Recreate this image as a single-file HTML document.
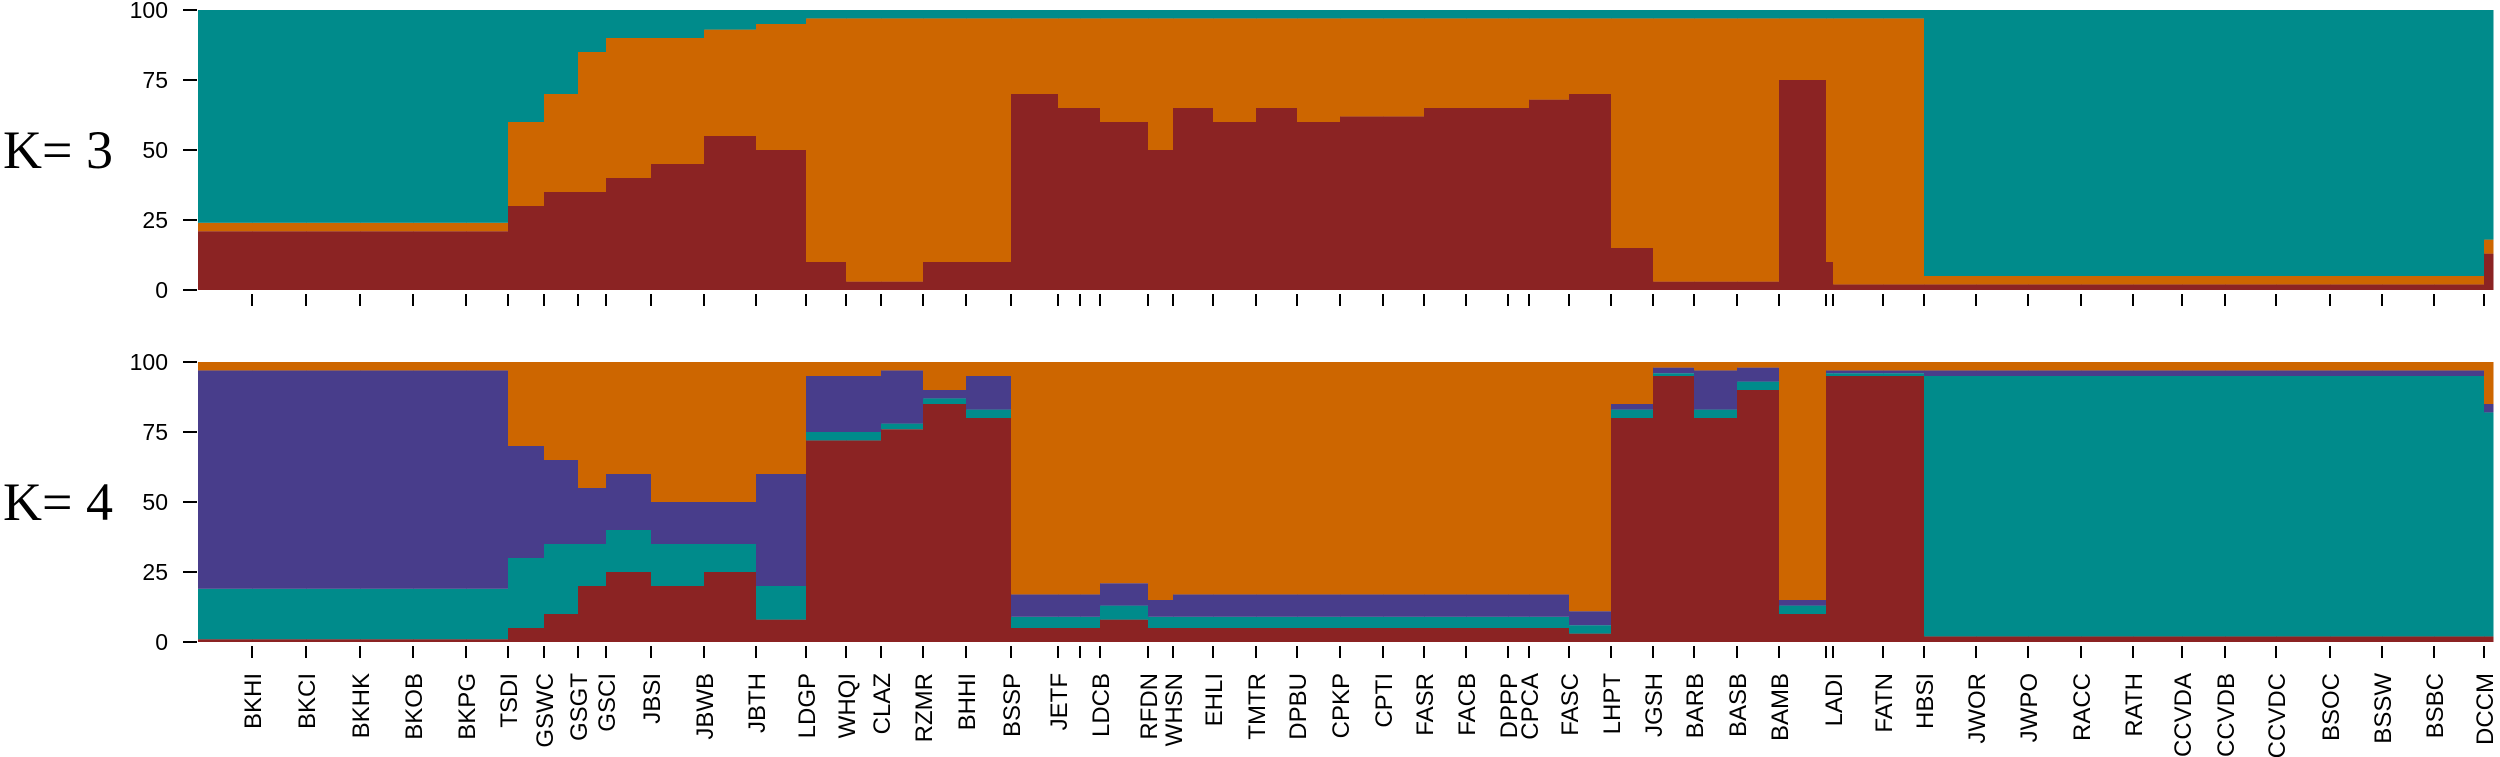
<!DOCTYPE html>
<html><head><meta charset="utf-8"><style>
html,body{margin:0;padding:0;background:#fff;}
svg{display:block;}
</style></head><body>
<svg id="chart" width="2500" height="757" viewBox="0 0 2500 757" xmlns="http://www.w3.org/2000/svg">
<text x="3" y="168" font-family="Liberation Serif, serif" font-size="54">K= 3</text>
<text x="3" y="520" font-family="Liberation Serif, serif" font-size="54">K= 4</text>
<g id="k3"></g>
<g id="k4"></g>
<g id="xlabels"></g>
</svg>
<script>
const populations = ["BKHI","BKCI","BKHK","BKOB","BKPG","TSDI","GSWC","GSGT","GSCI","JBSI","JBWB","JBTH","LDGP","WHQI","CLAZ","RZMR","BHHI","BSSP","JETF","","LDCB","RFDN","WHSN","EHLI","TMTR","DPBU","CPKP","CPTI","FASR","FACB","DPPP","CPCA","FASC","LHPT","JGSH","BARB","BASB","BAMB","","LADI","FATN","HBSI","JWOR","JWPO","RACC","RATH","CCVDA","CCVDB","CCVDC","BSOC","BSSW","BSBC","DCCM",""];
const sampleCounts = [54,54,54,53,53,42,36,34,28,45,53,52,50,40,35,42,43,45,47,22,20,48,25,40,43,41,43,43,41,42,42,21,40,42,42,41,43,42,47,7,50,41,52,52,53,52,49,43,51,54,52,52,50,9];
// K=3 : red, orange (teal = remainder)
const k3Red =    [21,21,21,21,21,21,30,35,35,40,45,55,50,10,3,3,10,10,70,65,65,60,50,65,60,65,60,62,62,65,65,65,68,70,15,3,3,3,75,10,2,2,2,2,2,2,2,2,2,2,2,2,2,13];
const k3Orange = [3,3,3,3,3,3,30,35,50,50,45,38,45,87,94,94,87,87,27,32,32,37,47,32,37,32,37,35,35,32,32,32,29,27,82,94,94,94,22,87,95,95,3,3,3,3,3,3,3,3,3,3,3,5];
// K=4 : red, teal, purple (orange = remainder)
const k4Red =    [1,1,1,1,1,1,5,10,20,25,20,25,8,72,72,76,85,80,5,5,5,8,5,5,5,5,5,5,5,5,5,5,5,3,80,95,80,90,10,95,95,95,2,2,2,2,2,2,2,2,2,2,2,2];
const k4Teal =   [18,18,18,18,18,18,25,25,15,15,15,10,12,3,3,2,2,3,4,4,4,5,4,4,4,4,4,4,4,4,4,4,4,3,3,1,3,3,3,1,1,1,93,93,93,93,93,93,93,93,93,93,93,80];
const k4Purple = [78,78,78,78,78,78,40,30,20,20,15,15,40,20,20,19,3,12,8,8,8,8,6,8,8,8,8,8,8,8,8,8,8,5,2,2,14,5,2,1,1,1,2,2,2,2,2,2,2,2,2,2,2,3];
const yTicks = [0,25,50,75,100];

const NS="http://www.w3.org/2000/svg";
const C={red:"#8B2323",orange:"#CD6600",teal:"#008B8B",purple:"#483D8B"};
const X0=198,X1=2493;
const total=sampleCounts.reduce((a,b)=>a+b,0);
function xScale(c){return X0+(X1-X0)*c/total;}
function yScale(v,top){return top+280-280*v/100;}
function mk(tag,attrs,parent){const e=document.createElementNS(NS,tag);for(const k in attrs)e.setAttribute(k,attrs[k]);parent.appendChild(e);return e;}

function drawPanel(g,top,layers){
  let cum=0;
  sampleCounts.forEach((n,i)=>{
    const xa=xScale(cum),xb=xScale(cum+n);cum+=n;
    let base=0;
    layers.forEach(L=>{
      const v=L.vals?L.vals[i]:100-base;
      const r=mk("rect",{x:xa,y:yScale(base+v,top),width:xb-xa+0.5,height:yScale(base,top)-yScale(base+v,top),fill:L.color},g);
      
      
      base+=v;
    });
  });
  yTicks.forEach(t=>{
    const y=yScale(t,top);
    const l=mk("line",{x1:183,x2:197,y1:y,y2:y,stroke:"#000","stroke-width":2},g);
    
    
    const tx=mk("text",{x:168,y:y+8,"text-anchor":"end","font-family":"Liberation Sans, sans-serif","font-size":23},g);
    
    
    tx.textContent=t;
  });
  cum=0;
  sampleCounts.slice(0,-1).forEach(n=>{
    cum+=n;const x=xScale(cum);
    const l=mk("line",{x1:x,x2:x,y1:top+284,y2:top+296,stroke:"#000","stroke-width":2},g);
    
    
  });
}
const redLayerK3={name:"red",color:C.red,vals:k3Red};
drawPanel(document.getElementById("k3"),10,[redLayerK3,{name:"orange",color:C.orange,vals:k3Orange},{name:"teal",color:C.teal}]);
drawPanel(document.getElementById("k4"),362,[{name:"red",color:C.red,vals:k4Red},{name:"teal",color:C.teal,vals:k4Teal},{name:"purple",color:C.purple,vals:k4Purple},{name:"orange",color:C.orange}]);

const lg=document.getElementById("xlabels");
let cum=0;
sampleCounts.slice(0,-1).forEach((n,i)=>{
  cum+=n;const x=xScale(cum)+9;
  if(!populations[i])return;
  const t=mk("text",{x:x,y:673,"text-anchor":"end","font-family":"Liberation Sans, sans-serif","font-size":24,transform:`rotate(-90 ${x} 673)`},lg);
  
  
  t.textContent=populations[i];
});
</script>
</body></html>
